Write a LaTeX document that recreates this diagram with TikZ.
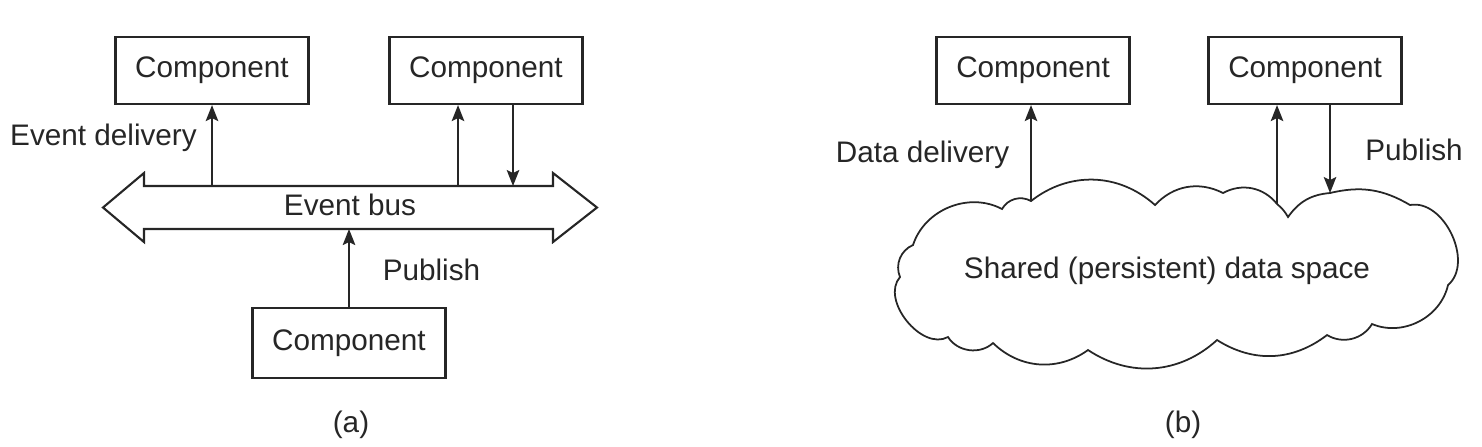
\documentclass[tikz,border=0pt]{standalone}
\usepackage{fontspec}
\setmainfont{Liberation Sans}
\usetikzlibrary{arrows.meta}
\definecolor{inkgray}{HTML}{262626}

\begin{document}
\begin{tikzpicture}[
  font=\fontsize{8.45}{10}\selectfont, color=inkgray,
  comp/.style={draw, line width=0.6pt, minimum width=1.93cm, minimum height=0.67cm, inner sep=0pt},
  flow/.style={line width=0.6pt, -{Stealth[length=1.6mm, width=1.25mm, inset=0.3mm]}}]
\useasboundingbox (0,0) rectangle (14.82,-4.46);

% (a) event bus
\draw[line width=0.6pt] (1.03,-2.075) -- (1.44,-1.73) -- (1.44,-1.86) -- (5.53,-1.86) -- (5.53,-1.73)
  -- (5.97,-2.075) -- (5.53,-2.42) -- (5.53,-2.29) -- (1.44,-2.29) -- (1.44,-2.42) -- cycle;
\node (bus) at (3.50,-2.05) {Event bus};
\coordinate (bustop) at (3.49,-1.86);
\coordinate (busbot) at (3.49,-2.29);

\node[comp] (a1) at (2.12,-0.705) {Component};
\node[comp] (a2) at (4.86,-0.705) {Component};
\node[comp, minimum height=0.70cm] (a3) at (3.49,-3.43) {Component};

\coordinate (up1) at (4.58,-1.86);
\coordinate (dn1) at (5.13,-1.86);
\draw[flow] (a1.south |- bustop) -- (a1.south);
\draw[flow] (up1) -- (up1 |- a2.south);
\draw[flow] (dn1 |- a2.south) -- (dn1);
\draw[flow] (a3.north) -- (busbot);

\node (evdel) at (1.035,-1.38) {Event delivery};
\node (pub1) at (4.315,-2.70) {Publish};
\node (capa) at (3.51,-4.25) {(a)};

% (b) shared data space
\draw[line width=0.5pt] (9.00,-2.77) to[bend left=45] (9.13,-2.45) to[bend left=50] (10.02,-2.09)
  to[bend left=45] (10.31,-2.01) to[bend left=40] (11.55,-2.05) to[bend left=37] (12.23,-1.93)
  to[bend left=40] (12.77,-2.04) to[bend left=10] (12.88,-2.17) to[bend left=25] (13.30,-1.93)
  to[bend left=22] (14.10,-2.05) to[bend left=75] (14.48,-2.85) to[bend left=50] (13.72,-3.24)
  to[bend left=45] (13.27,-3.35) to[bend left=35] (12.17,-3.40) to[bend left=38] (10.88,-3.50)
  to[bend left=40] (9.93,-3.43) to[bend left=50] (9.48,-3.37) to[bend left=80] cycle;
\node (space) at (11.67,-2.71) {Shared (persistent) data space};
\coordinate (sp1) at (10.31,-2.01);
\coordinate (sp2) at (12.77,-2.04);
\coordinate (sp3) at (13.30,-1.93);

\node[comp] (b1) at (10.33,-0.705) {Component};
\node[comp] (b2) at (13.05,-0.705) {Component};

\draw[flow] (sp1) -- (sp1 |- b1.south);
\draw[flow] (sp2) -- (sp2 |- b2.south);
\draw[flow] (sp3 |- b2.south) -- (sp3);

\node (datdel) at (9.225,-1.55) {Data delivery};
\node (pub2) at (14.14,-1.50) {Publish};
\node (capb) at (11.83,-4.25) {(b)};
\end{tikzpicture}
\end{document}
